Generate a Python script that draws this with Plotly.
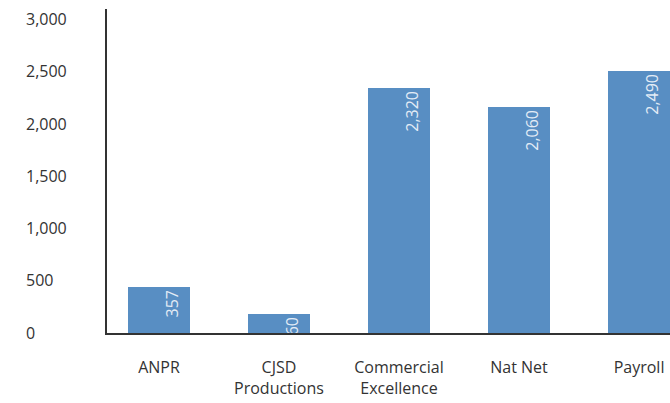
import plotly.graph_objects as go

categories = ["ANPR", "CJSD<br>Productions", "Commercial<br>Excellence", "Nat Net", "Payroll"]
bar_values = [441, 179, 2348, 2166, 2511]
bar_labels = ["357", "160", "2,320", "2,060", "2,490"]
tick_values = [0, 500, 1000, 1500, 2000, 2500, 3000]
tick_labels = ["0", "500", "1,000", "1,500", "2,000", "2,500", "3,000"]

W, H = 670, 403
ML, MR, MT, MB = 25, 0, 9, 70
plot_left = 107
FONT = "Open Sans"
BAR_COLOR = "#588ec3"
TEXT_COLOR = "#e3ecf6"
AXIS_COLOR = "#333333"

bw = 0.517
shift = 0.108

fig = go.Figure()
fig.add_trace(go.Bar(
    x=categories, y=bar_values, width=bw, offset=-bw / 2,
    marker=dict(color=BAR_COLOR, line=dict(width=0)),
    showlegend=False, hoverinfo="skip",
))
fig.add_trace(go.Bar(
    x=categories, y=bar_values, width=bw, offset=-bw / 2 + shift,
    marker=dict(color="rgba(0,0,0,0)", line=dict(width=0)),
    text=bar_labels, textposition="inside", insidetextanchor="end",
    textangle=-90, constraintext="none", cliponaxis=True,
    textfont=dict(family=FONT, size=16, color=TEXT_COLOR),
    showlegend=False, hoverinfo="skip",
))

dom0 = (plot_left - ML) / (W - ML - MR)
fig.update_layout(
    width=W, height=H,
    margin=dict(l=ML, r=MR, t=MT, b=MB, pad=0),
    paper_bgcolor="white", plot_bgcolor="white",
    barmode="overlay", bargap=0,
    font=dict(family=FONT, size=16, color=AXIS_COLOR),
    xaxis=dict(
        domain=[dom0, 1], range=[-0.433, 4.258],
        showline=True, linecolor=AXIS_COLOR, linewidth=2,
        showgrid=False, zeroline=False, ticks="",
        ticklabelstandoff=19,
        tickfont=dict(family=FONT, size=16, color=AXIS_COLOR),
    ),
    yaxis=dict(
        range=[0, 3100], showline=True, linecolor=AXIS_COLOR, linewidth=2,
        showgrid=False, zeroline=False, ticks="", showticklabels=False,
    ),
    yaxis2=dict(
        overlaying="y", matches="y", range=[0, 3100], anchor="free", position=0,
        side="right", showline=False, showgrid=False, zeroline=False, ticks="",
        tickmode="array", tickvals=tick_values, ticktext=tick_labels,
        tickfont=dict(family=FONT, size=16, color=AXIS_COLOR),
    ),
)
fig.add_trace(go.Scatter(x=[categories[0]], y=[0], yaxis="y2", mode="markers",
                         marker=dict(opacity=0), showlegend=False, hoverinfo="skip"))

fig.write_html("out.html")
